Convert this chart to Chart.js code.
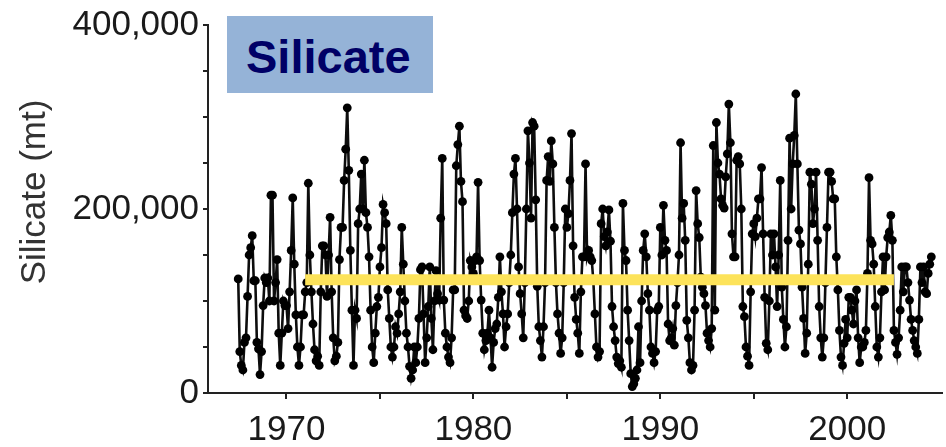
<!DOCTYPE html>
<html>
<head>
<meta charset="utf-8">
<title>Silicate</title>
<script src="https://cdn.jsdelivr.net/npm/chart.js@4.4.1/dist/chart.umd.min.js"></script>
<style>
  body { margin: 0; background: #fff; }
  #wrap { position: relative; width: 946px; height: 447px; }
  #tag {
    position: absolute; left: 227px; top: 16px; width: 206px; height: 77px;
    box-sizing: border-box; padding-left: 19px;
    background: #95b3d7; color: #000066;
    font: bold 47px/81px "Liberation Sans", Arial, sans-serif;
    white-space: nowrap;
  }
</style>
</head>
<body>
<div id="wrap">
  <canvas id="silicateChart" width="946" height="447"></canvas>
  <div id="tag">Silicate</div>
</div>
<script>
// Monthly silicate load, thousand metric tons, starting June 1967
const startYear = 1967;
const startMonth = 5; // 0 = January
const silicateKt = [
  124, 45, 30, 25, 55, 60, 105,                              // 1967 (Jun-Dec)
  150, 158, 171, 122, 122, 55, 48, 20, 45, 95, 125, 120,      // 1968
  125, 100, 215, 215, 100, 120, 145, 65, 30, 65, 100, 95,     // 1969
  95, 70, 110, 155, 212, 140, 85, 50, 30, 50, 85, 85,         // 1970
  110, 120, 228, 150, 110, 75, 47, 35, 40, 30, 110, 160,      // 1971
  160, 150, 105, 150, 191, 110, 60, 35, 40, 55, 145, 180,     // 1972
  180, 231, 265, 310, 242, 155, 90, 30, 90, 81, 184, 200,     // 1973
  238, 200, 253, 196, 180, 148, 90, 50, 33, 65, 94, 104,      // 1974
  137, 158, 205, 196, 184, 112, 81, 50, 39, 50, 72, 65,       // 1975
  86, 110, 180, 140, 100, 65, 50, 29, 16, 25, 50, 33,         // 1976
  50, 81, 134, 137, 86, 33, 60, 94, 137, 81, 47, 100,         // 1977
  133, 108, 101, 190, 255, 101, 65, 50, 39, 33, 60, 112,      // 1978
  112, 247, 270, 290, 230, 208, 90, 84, 81, 100, 144, 137,    // 1979
  130, 144, 148, 229, 144, 101, 65, 47, 57, 65, 90, 60,       // 1980
  28, 55, 70, 75, 104, 148, 110, 86, 50, 72, 86, 120,         // 1981
  150, 196, 238, 255, 200, 137, 108, 86, 60, 120, 200, 285,   // 1982
  250, 190, 294, 290, 210, 116, 72, 57, 39, 72, 120, 231,     // 1983
  257, 230, 274, 249, 180, 120, 86, 65, 43, 60, 120, 200,     // 1984
  180, 195, 231, 282, 160, 104, 80, 65, 43, 110, 148, 148,    // 1985
  249, 148, 155, 148, 144, 122, 86, 50, 39, 45, 184, 200,     // 1986
  170, 160, 175, 199, 165, 94, 72, 57, 39, 32, 35, 28,        // 1987
  206, 155, 144, 90, 57, 21, 7, 10, 16, 25, 72, 33,           // 1988
  100, 155, 173, 148, 108, 90, 50, 43, 33, 45, 90, 94,        // 1989
  180, 150, 204, 166, 155, 75, 57, 60, 70, 52, 95, 120,       // 1990
  150, 272, 190, 206, 166, 79, 60, 33, 25, 30, 90, 220,       // 1991
  184, 169, 126, 115, 108, 95, 65, 57, 50, 70, 269, 90,       // 1992
  294, 250, 238, 211, 204, 201, 235, 260, 314, 272, 173, 148, // 1993
  148, 253, 257, 249, 200, 94, 83, 50, 40, 30, 110, 173,      // 1994
  184, 170, 190, 211, 211, 245, 173, 104, 54, 47, 100, 173,   // 1995
  150, 173, 137, 94, 150, 231, 115, 80, 50, 72, 166, 277,     // 1996
  200, 249, 280, 325, 249, 177, 162, 115, 81, 43, 65, 140,    // 1997
  240, 227, 184, 200, 240, 166, 94, 60, 39, 60, 120, 180,     // 1998
  240, 240, 230, 211, 211, 148, 112, 68, 39, 30, 54, 80,      // 1999
  60, 104, 104, 90, 75, 100, 112, 60, 33, 50, 50, 55,         // 2000
  68, 130, 234, 166, 162, 140, 94, 50, 39, 60, 110, 148,      // 2001
  112, 148, 169, 175, 193, 166, 68, 55, 42, 60, 90, 137,      // 2002
  110, 137, 137, 120, 101, 80, 68, 57, 50, 43, 80, 137,       // 2003
  120, 137, 110, 108, 130, 140, 148                           // 2004 (Jan-Jul)
];

// Long-term mean drawn as a flat band
const meanYears = [1971.0, 2002.5];
const meanValue = 123000;

const xTickYears = [1970, 1975, 1980, 1985, 1990, 1995, 2000];
const yTickValues = [0, 50000, 100000, 150000, 200000, 250000, 300000, 350000, 400000];
const yAxisTitle = 'Silicate (mt)';

const FONT = '"Liberation Sans", Arial, sans-serif';

const seriesPoints = silicateKt.map((v, i) => ({
  x: startYear + (startMonth + i) / 12,
  y: v * 1000
}));
const meanPoints = meanYears.map(yr => ({ x: yr, y: meanValue }));

// rotated y axis title
const axisTitlePlugin = {
  id: 'axisTitle',
  afterDraw(chart) {
    const ctx = chart.ctx;
    ctx.save();
    ctx.translate(35, 192);
    ctx.rotate(-Math.PI / 2);
    ctx.font = '35px ' + FONT;
    ctx.fillStyle = '#333';
    ctx.textAlign = 'center';
    ctx.textBaseline = 'middle';
    ctx.fillText(yAxisTitle, 0, 0);
    ctx.restore();
  }
};

new Chart(document.getElementById('silicateChart'), {
  type: 'line',
  data: {
    datasets: [
      {
        data: meanPoints,
        borderColor: '#fde35a',
        borderWidth: 11,
        borderCapStyle: 'butt',
        pointRadius: 0,
        order: 0
      },
      {
        data: seriesPoints,
        borderColor: '#0d0d0d',
        borderWidth: 2.6,
        pointRadius: 4.4,
        pointBackgroundColor: '#000',
        pointBorderWidth: 0,
        tension: 0,
        order: 1
      }
    ]
  },
  options: {
    responsive: false,
    animation: false,
    layout: { padding: { top: 24, right: 0, bottom: 0, left: 0 } },
    plugins: {
      legend: { display: false },
      tooltip: { enabled: false }
    },
    scales: {
      x: {
        type: 'linear',
        min: 1965.8,
        max: 2005.05,
        afterBuildTicks: scale => { scale.ticks = xTickYears.map(v => ({ value: v })); },
        afterFit: scale => { scale.height = 54; },
        border: { display: true, color: '#222', width: 2 },
        grid: { drawOnChartArea: false, drawTicks: true, tickLength: 6, color: '#222', lineWidth: 2 },
        ticks: {
          autoSkip: false,
          maxRotation: 0,
          padding: 10,
          color: '#1a1a1a',
          font: { family: FONT, size: 35 },
          callback: v => (v % 10 === 0 ? String(v) : '')
        }
      },
      y: {
        min: 0,
        max: 400000,
        afterBuildTicks: scale => { scale.ticks = yTickValues.map(v => ({ value: v })); },
        afterFit: scale => { scale.width = 208; },
        border: { display: true, color: '#222', width: 2 },
        grid: { drawOnChartArea: false, drawTicks: true, tickLength: 5, color: '#222', lineWidth: 2 },
        ticks: {
          autoSkip: false,
          padding: 4,
          color: '#1a1a1a',
          font: { family: FONT, size: 35 },
          callback: v => (v % 200000 === 0 ? v.toLocaleString('en-US') : '')
        }
      }
    }
  },
  plugins: [axisTitlePlugin]
});
</script>
</body>
</html>
